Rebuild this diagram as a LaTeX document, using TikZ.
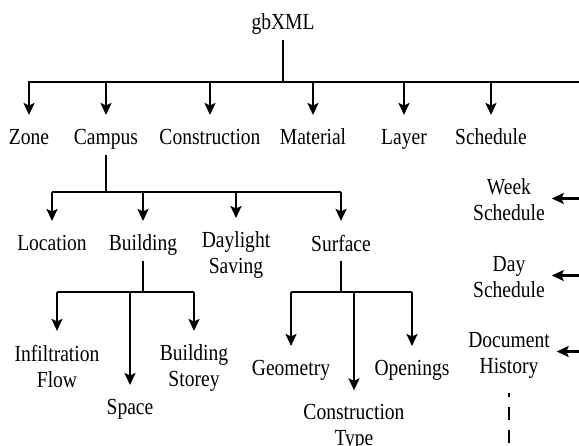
\documentclass[tikz,border=0pt]{standalone}
\usepackage{fontspec}
\setmainfont{Liberation Serif}[FakeStretch=0.85]
\usepackage{tikz}
\usetikzlibrary{arrows.meta}
\usetikzlibrary{positioning}
\usetikzlibrary{calc}
\newcommand{\lblstrut}{\rule[-5pt]{0pt}{21pt}}

\begin{document}
\begin{tikzpicture}[
  x=1pt, y=-1pt,
  tree/.style ={
    line width=0.75mm
  },
  dep/.style ={
    -{Stealth[length=12pt,width=11pt,inset=2.5pt]},
    line width=0.75mm,
    shorten >=9pt
  },
  lbl/.style={
    align=center,
    inner sep=0pt,
    outer sep=5pt,
    execute at begin node=\lblstrut,
    font=\fontsize{23}{26}\selectfont},
]

  \clip (0,0) rectangle (579,446);

    % Root and first level
  \node[lbl] (gbxml) at (283,24.5) {gbXML};
  \foreach \name/\x/\txt in {zone/29/Zone, campus/106/Campus,
      construction/210/Construction, material/313/Material,
      layer/404/Layer, schedule/491/Schedule} {
    \node[lbl] (\name) at (\x,139.5) {\txt};
  }
  \coordinate (rootbar) at (283,82);
  \coordinate (rightend) at (585,82);

  \draw[tree] (gbxml.south) -- (rootbar);
  \draw[tree] ([xshift=-1pt]zone.north |- rootbar) -- (rightend);
  \foreach \name in {zone,campus,construction,material,layer,schedule} {
    \draw[dep] (\name.north |- rootbar) -- (\name.north);
  }

    % Campus children
  \node[lbl] (location) at (52,245.5) {Location};
  \node[lbl] (building) at (143,245.5) {Building};
  \node[lbl] (daylight) at (236,255.5) {Daylight\\\lblstrut Saving};
  \node[lbl] (surface) at (341,245.5) {Surface};
  \coordinate (campusbar) at (106,192);

  \draw[tree] (campus.south) -- (campusbar);
  \draw[tree] (location.north |- campusbar) -- (surface.north |- campusbar);
  \foreach \name in {location,building,daylight,surface} {
    \draw[dep] (\name.north |- campusbar) -- (\name.north);
  }

    % Building children
  \node[lbl] (infiltration) at (57,368.5) {Infiltration\\\lblstrut Flow};
  \node[lbl] (space) at (130,409.5) {Space};
  \node[lbl] (storey) at (194,368.5) {Building\\\lblstrut Storey};
  \coordinate (buildingbar) at (143,292);

  \draw[tree] (building.south) -- (buildingbar);
  \draw[tree] (infiltration.north |- buildingbar) -- (storey.north |- buildingbar);
  \foreach \name in {infiltration,space,storey} {
    \draw[dep] (\name.north |- buildingbar) -- (\name.north);
  }

    % Surface children
  \node[lbl] (geometry) at (291,370.5) {Geometry};
  \node[lbl] (constype) at (354,427.5) {Construction\\\lblstrut Type};
  \node[lbl] (openings) at (412,370.5) {Openings};
  \coordinate (surfacebar) at (341,292);

  \draw[tree] (surface.south) -- (surfacebar);
  \draw[tree] (geometry.north |- surfacebar) -- (openings.north |- surfacebar);
  \foreach \name in {geometry,constype,openings} {
    \draw[dep] (\name.north |- surfacebar) -- (\name.north);
  }

    % Schedule side
  \node[lbl] (week) at (509,202.5) {Week\\\lblstrut Schedule};
  \node[lbl] (day) at (509,279.5) {Day\\\lblstrut Schedule};
  \node[lbl] (dochist) at (509,355.5) {Document\\\lblstrut History};

  \foreach \name in {week,day,dochist} {
    \draw[dep,shorten >=2pt] ($(\name.east -| rightend)+(0,-4)$) -- ($(\name.east)+(0,-4)$);
  }
  \coordinate (dotsend) at (509,450);
  \draw[line width=1mm,dash pattern=on 13pt off 10pt,dash phase=9pt]
    ($(dochist.south)+(0,9)$) -- (dotsend);

\end{tikzpicture}
\end{document}
